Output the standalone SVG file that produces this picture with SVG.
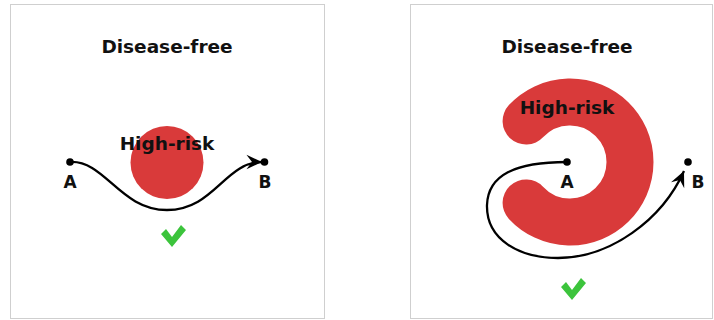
<svg xmlns="http://www.w3.org/2000/svg" width="714" height="320" viewBox="0 0 714 320">
  <defs>
    <style>
      .frame { fill: #ffffff; stroke: #cfcfcf; stroke-width: 1; }
      .title { font-family: "DejaVu Sans", Verdana, sans-serif; font-weight: bold; font-size: 18.5px; fill: #111; text-anchor: middle; }
      .risk-label { font-family: "DejaVu Sans", Verdana, sans-serif; font-weight: bold; font-size: 18.5px; fill: #111; text-anchor: middle; }
      .pt-label { font-family: "DejaVu Sans", Verdana, sans-serif; font-weight: bold; font-size: 17px; fill: #111; text-anchor: middle; }
      .risk { fill: #d93a3a; }
      .risk-arc { fill: none; stroke: #d93a3a; stroke-width: 47; stroke-linecap: round; }
      .route { fill: none; stroke: #000; stroke-width: 2.3; marker-end: url(#head); }
      .dot { fill: #000; }
      .tick { fill: #3cc43c; }
    </style>
    <marker id="head" markerUnits="userSpaceOnUse" markerWidth="20" markerHeight="20" viewBox="-16 -8 18 16" refX="0" refY="0" orient="auto">
      <path d="M0,0 L-14,-6.5 L-9,0 L-14,6.5 Z" fill="#000"/>
    </marker>
    <polygon id="check" points="161,234 166,229 172,237 181,225 186,230 172,247"/>
  </defs>

  <!-- left panel: compact high-risk zone -->
  <g id="panel-left">
    <rect class="frame" x="10.5" y="4.5" width="314" height="314"/>
    <text class="title" x="167" y="53">Disease-free</text>
  </g>
  <g id="zone-left">
    <circle class="risk" cx="167" cy="162.5" r="36.5"/>
    <text class="risk-label" x="167" y="150">High-risk</text>
  </g>
  <g id="a-left">
    <circle class="dot" cx="70" cy="162" r="3.8"/>
    <text class="pt-label" x="70" y="188">A</text>
  </g>
  <g id="b-left">
    <circle class="dot" cx="264.5" cy="162" r="3.8"/>
    <text class="pt-label" x="265" y="188">B</text>
  </g>
  <g id="check-left">
    <use href="#check" class="tick"/>
  </g>

  <!-- right panel: wrapping high-risk zone -->
  <g id="panel-right">
    <rect class="frame" x="410.5" y="4.5" width="302" height="314"/>
    <text class="title" x="567" y="53">Disease-free</text>
  </g>
  <g id="zone-right">
    <path class="risk-arc" d="M526.1,121.1 A60,60 0 1 1 526.1,202.9"/>
    <text class="risk-label" x="567" y="114">High-risk</text>
  </g>
  <g id="a-right">
    <circle class="dot" cx="567" cy="162" r="3.8"/>
    <text class="pt-label" x="567" y="188">A</text>
  </g>
  <g id="b-right">
    <circle class="dot" cx="688" cy="162" r="3.8"/>
    <text class="pt-label" x="698" y="188">B</text>
  </g>
  <g id="check-right">
    <use href="#check" class="tick" transform="translate(400,53)"/>
  </g>

  <!-- routes from A to B -->
  <g id="connectors">
    <path class="route" d="M70,162 C105,160 120,210 167,210 C214,210 225,162 262,162"/>
    <path class="route" d="M567,162 C515,162 488,175 487,205 C486,240 520,258 558,258 C610,258 662,220 684,171"/>
  </g>
</svg>
